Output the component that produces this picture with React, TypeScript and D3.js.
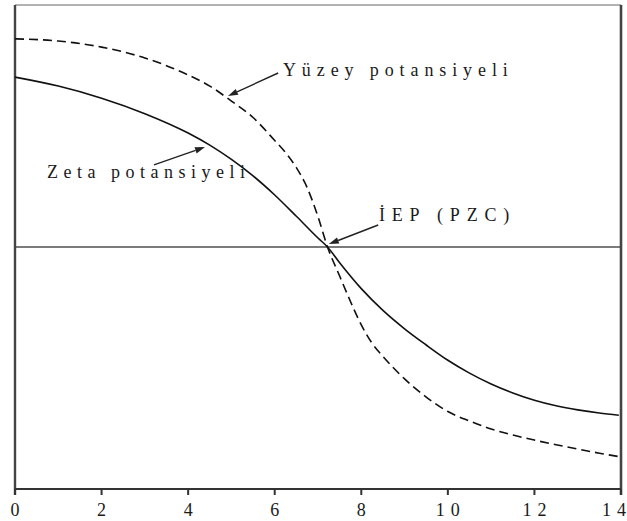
import React from "react";
import * as d3 from "d3";

const xTicks = [0, 2, 4, 6, 8, 10, 12, 14];
const tickLabels = ["0", "2", "4", "6", "8", "10", "12", "14"];

const pH = [0, 1, 2, 3, 4, 4.5, 5, 5.5, 6, 6.5, 7, 7.22, 7.5, 8, 8.5, 9, 9.5, 10, 10.5, 11, 11.5, 12, 12.5, 13, 13.5, 13.95];
const zeta = [0.702, 0.665, 0.615, 0.551, 0.471, 0.421, 0.362, 0.294, 0.215, 0.127, 0.037, 0, -0.065, -0.172, -0.262, -0.338, -0.405, -0.468, -0.521, -0.566, -0.603, -0.633, -0.656, -0.673, -0.686, -0.695];

const pHs = [0, 1, 2, 3, 4, 4.5, 5, 5.5, 6, 6.25, 6.5, 6.75, 7, 7.22, 7.5, 7.75, 8, 8.25, 8.5, 9, 9.5, 10, 10.5, 11, 11.5, 12, 12.5, 13, 13.5, 13.95];
const surface = [0.86, 0.851, 0.826, 0.781, 0.711, 0.665, 0.603, 0.535, 0.44, 0.39, 0.328, 0.245, 0.125, 0, -0.12, -0.225, -0.322, -0.398, -0.452, -0.545, -0.62, -0.68, -0.719, -0.752, -0.777, -0.798, -0.817, -0.835, -0.852, -0.866];

const annLabels = ["Yüzey potansiyeli", "Zeta potansiyeli", "İEP (PZC)"];
const annText = [[6.19, 0.707], [0.74, 0.285], [8.41, 0.107]];
const annFrom = [[6.08, 0.719], [3.21, 0.339], [8.39, 0.091]];
const annTo = [[4.92, 0.624], [4.39, 0.413], [7.25, 0.012]];
const annSpacing = [5.9, 5.5, 6.8];

const W = 627;
const H = 521;
const left = 15, right = 621, top = 5, bottom = 489;
const FONT = "Liberation Serif, Tinos, Times New Roman, DejaVu Serif, serif";

export default function App() {
  const x = d3.scaleLinear().domain([0, 14]).range([left, right]);
  const y = d3.scaleLinear().domain([-1, 1]).range([bottom, top]);
  const gen = d3.line<[number, number]>().curve(d3.curveMonotoneX);
  const zp = gen(zeta.map((v, i) => [x(pH[i]), y(v)] as [number, number]));
  const sp = gen(surface.map((v, i) => [x(pHs[i]), y(v)] as [number, number]));

  const arrow = (i: number) => {
    const x1 = x(annFrom[i][0]), y1 = y(annFrom[i][1]);
    const x2 = x(annTo[i][0]), y2 = y(annTo[i][1]);
    const ang = Math.atan2(y2 - y1, x2 - x1);
    const L = 10, hw = 3.2;
    const bx = x2 - L * Math.cos(ang), by = y2 - L * Math.sin(ang);
    const px = -Math.sin(ang), py = Math.cos(ang);
    const pts = `${x2},${y2} ${bx + hw * px},${by + hw * py} ${bx - hw * px},${by - hw * py}`;
    return (
      <g key={"a" + i}>
        <line x1={x1} y1={y1} x2={bx} y2={by} stroke="#222" strokeWidth={1.4} />
        <polygon points={pts} fill="#222" />
      </g>
    );
  };

  const last = tickLabels.length - 1;

  return (
    <svg
      width={W}
      height={H}
      style={{ position: "absolute", left: 0, top: 0, background: "#fff" }}
    >
      <rect x={0} y={0} width={W} height={H} fill="#fff" />
      <line x1={left} x2={right} y1={y(0)} y2={y(0)} stroke="#7a7a7a" strokeWidth={2} />
      <line x1={left} x2={right} y1={top} y2={top} stroke="#999" strokeWidth={1.6} />
      <line x1={left} x2={left} y1={top} y2={bottom + 6} stroke="#444" strokeWidth={2.4} />
      <line x1={right} x2={right} y1={top} y2={bottom + 6} stroke="#444" strokeWidth={2.6} />
      <line x1={left} x2={right} y1={bottom} y2={bottom} stroke="#333" strokeWidth={2} />
      {xTicks.map((t, i) => {
        const lab = tickLabels[i];
        const isLast = i === last;
        return (
          <g key={t}>
            <line x1={x(t)} x2={x(t)} y1={bottom} y2={bottom + 6} stroke="#333" strokeWidth={2} />
            <text
              x={isLast ? W - 1 : x(t)}
              y={516}
              textAnchor={isLast ? "end" : "middle"}
              fontFamily={FONT}
              fontSize={18}
              fill="#1a1a1a"
            >
              {lab.split("").map((c, j) => (
                <tspan key={j} dx={j > 0 ? 6 : 0}>
                  {c}
                </tspan>
              ))}
            </text>
          </g>
        );
      })}
      <path d={sp || ""} fill="none" stroke="#111" strokeWidth={1.6} strokeDasharray="9,5" />
      <path d={zp || ""} fill="none" stroke="#111" strokeWidth={1.6} />
      {annLabels.map((lab, i) => (
        <text
          key={lab}
          x={x(annText[i][0])}
          y={y(annText[i][1])}
          fontFamily={FONT}
          fontSize={18}
          letterSpacing={annSpacing[i]}
          fill="#1a1a1a"
        >
          {lab}
        </text>
      ))}
      {annLabels.map((_, i) => arrow(i))}
    </svg>
  );
}
